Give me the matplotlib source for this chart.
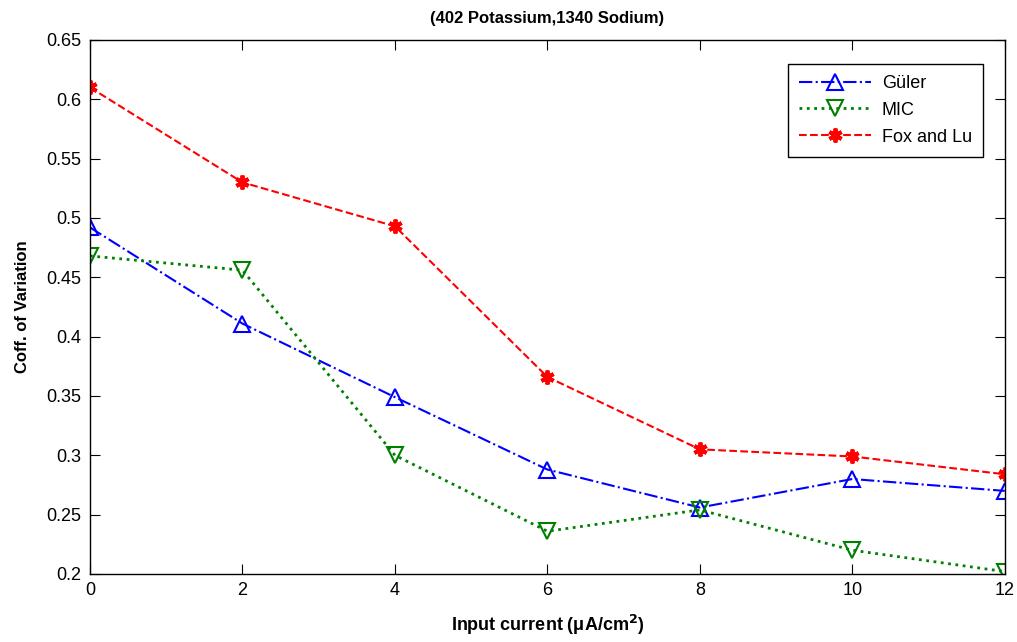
import matplotlib
matplotlib.use("Agg")
import matplotlib.pyplot as plt

plt.rcParams["font.family"] = ["Liberation Sans", "DejaVu Sans"]

current = [0, 2, 4, 6, 8, 10, 12]
guler = [0.492, 0.411, 0.349, 0.288, 0.256, 0.280, 0.270]
mic = [0.468, 0.456, 0.300, 0.236, 0.254, 0.220, 0.202]
fox_lu = [0.610, 0.530, 0.493, 0.366, 0.305, 0.299, 0.284]

fig = plt.figure(figsize=(10.17, 6.42), dpi=100)
ax = fig.add_axes([0.0885, 0.106, 0.8995, 0.8317])

ax.plot(current, guler, color="blue", linestyle="-.", linewidth=1.5,
        marker="^", markersize=11, markerfacecolor="none",
        markeredgecolor="blue", markeredgewidth=1.5, label="Güler")
ax.plot(current, mic, color="green", linestyle=":", linewidth=2,
        marker="v", markersize=11, markerfacecolor="none",
        markeredgecolor="green", markeredgewidth=1.5, label="MIC")
ax.plot(current, fox_lu, color="red", linestyle="--", linewidth=1.5,
        marker=(6, 2, 0), markersize=10, markerfacecolor="red",
        markeredgecolor="red", markeredgewidth=2.8, label="Fox and Lu")

ax.set_xlim(0, 12)
ax.set_ylim(0.2, 0.65)
ax.set_xticks(current)
ax.set_yticks([0.2, 0.25, 0.3, 0.35, 0.4, 0.45, 0.5, 0.55, 0.6, 0.65])
ax.set_yticklabels(["0.2", "0.25", "0.3", "0.35", "0.4", "0.45", "0.5",
                    "0.55", "0.6", "0.65"])
ax.tick_params(direction="in", top=True, right=True, labelsize=13, length=7, pad=6)
for s in ax.spines.values():
    s.set_linewidth(1)

ax.set_title("(402 Potassium,1340 Sodium)", fontsize=12, fontweight="bold", pad=12)
ax.set_xlabel("Input current (\u03bcA/cm$^\\mathbf{2}$)", fontsize=13,
              fontweight="bold", labelpad=10)
ax.set_ylabel("Coff. of Variation", fontsize=12, fontweight="bold", labelpad=12)

leg = ax.legend(loc="upper right", bbox_to_anchor=(0.976, 0.955), fontsize=13,
                fancybox=False, edgecolor="black", framealpha=1,
                handlelength=4.0, borderpad=0.6, labelspacing=0.55,
                handletextpad=0.6, borderaxespad=0)
leg.get_frame().set_linewidth(1)

fig.savefig("out.png", dpi=100)
